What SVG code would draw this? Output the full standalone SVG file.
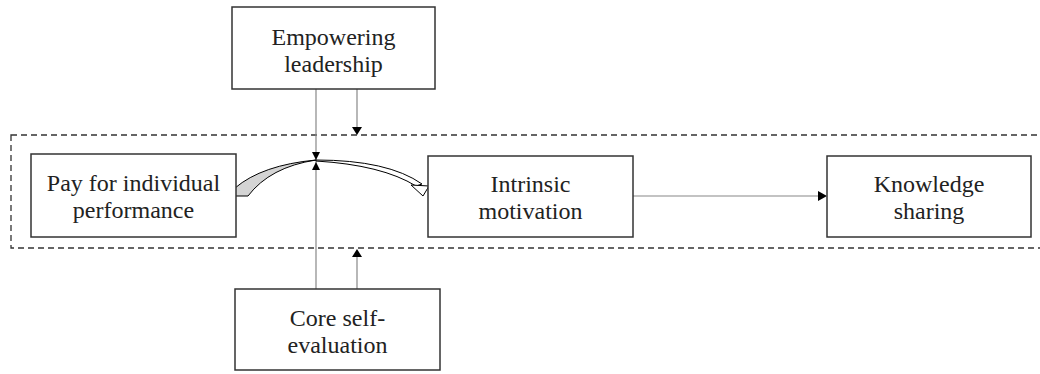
<svg xmlns="http://www.w3.org/2000/svg" width="1040" height="374" viewBox="0 0 1040 374">
<style>
.box{fill:#fff;stroke:#333;stroke-width:1.5}
.lbl{font-family:"Liberation Serif","Times New Roman",serif;font-size:24px;fill:#222;text-anchor:middle}
.ln{stroke:#888;stroke-width:1.2;fill:none}
.ah{fill:#000}
</style>
<rect width="1040" height="374" fill="#fff"/>
<rect x="11" y="135" width="1040" height="113" fill="none" stroke="#333" stroke-width="1.3" stroke-dasharray="6 4"/>
<g id="connectors">
<line class="ln" x1="316" y1="89" x2="316" y2="289"/>
<polygon class="ah" points="312,152 320,152 316,160"/>
<polygon class="ah" points="312,170 320,170 316,162"/>
<line class="ln" x1="357" y1="89" x2="357" y2="128"/>
<polygon class="ah" points="352,127 362,127 357,135"/>
<line class="ln" x1="357" y1="289" x2="357" y2="256"/>
<polygon class="ah" points="352,257 362,257 357,249"/>
<line class="ln" x1="633" y1="196" x2="820" y2="196"/>
<polygon class="ah" points="818,191 818,201 827,196"/>
<path d="M235,196 L235,188 Q262,165 316,160 Q270,167 248,196 Z" fill="#d4d4d4" stroke="#000" stroke-width="1"/>
<path d="M316,160 Q388,160 422,184 L416,186 Q382,165 316,161 Z" fill="#fff" stroke="#000" stroke-width="1"/>
<polygon points="411,185 429,186 423,196" fill="#fff" stroke="#000" stroke-width="1"/>
</g>
<g id="empowering">
<rect class="box" x="232" y="7" width="203" height="82"/>
<text class="lbl" x="333.5" y="45">Empowering</text>
<text class="lbl" x="333.5" y="72">leadership</text>
</g>
<g id="pay">
<rect class="box" x="31" y="154" width="205" height="83"/>
<text class="lbl" x="133.5" y="191">Pay for individual</text>
<text class="lbl" x="133.5" y="218">performance</text>
</g>
<g id="intrinsic">
<rect class="box" x="428" y="156" width="205" height="81"/>
<text class="lbl" x="530.5" y="192">Intrinsic</text>
<text class="lbl" x="530.5" y="219">motivation</text>
</g>
<g id="knowledge">
<rect class="box" x="827" y="156" width="204" height="81"/>
<text class="lbl" x="929" y="192">Knowledge</text>
<text class="lbl" x="929" y="219">sharing</text>
</g>
<g id="core">
<rect class="box" x="235" y="289" width="205" height="81"/>
<text class="lbl" x="337.5" y="326">Core self-</text>
<text class="lbl" x="337.5" y="353">evaluation</text>
</g>
</svg>
